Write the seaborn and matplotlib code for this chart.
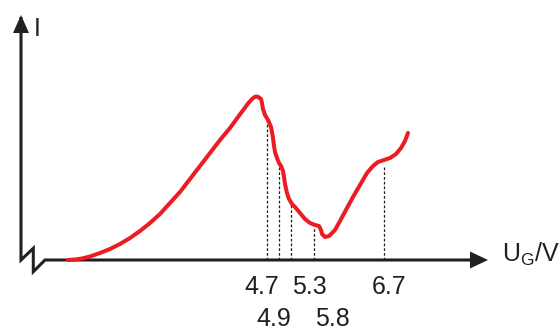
import numpy as np
import pandas as pd
import matplotlib
matplotlib.use("Agg")
import matplotlib.pyplot as plt
import seaborn as sns

# schematic grid voltage position (arbitrary units) and anode current I
ug_pos = [68, 75, 82, 90, 100, 110, 120, 130, 140, 150, 160, 170, 180, 190, 200,
          210, 220, 230, 238, 244, 248, 252, 255, 257,
          259, 261, 262, 263, 265, 268, 271, 272, 273, 274, 275, 277, 279,
          281, 283, 284, 285, 287, 289, 292, 295, 300, 305, 310, 315, 319,
          321, 322, 325, 329, 335, 340, 347, 353, 360, 367, 373, 378, 384,
          390, 396, 401, 405, 408]
current = [0, 0.5, 1.5, 3.5, 7, 11, 16, 22, 29, 37, 46, 57, 68, 81, 94,
           107, 120, 132, 143, 151, 156.5, 161, 163.2, 163.5,
           162.5, 161, 157, 151, 145, 140, 133, 128, 122, 114, 108, 102, 97,
           94, 89, 83, 76, 67, 61, 56, 53, 47, 41, 37, 35, 34,
           30, 26, 23, 24, 30, 39, 52, 63, 75, 87, 94, 98, 100,
           102, 106, 112, 119, 127]

# marked voltages
mark_labels = ["4.7", "4.9", "5.3", "5.8", "6.7"]
mark_pos = [267, 279, 291, 314, 384]
mark_height = [140, 93, 57, 33, 94]
label_pos = [262, 274, 309, 332, 389]
label_row = [0, 1, 0, 1, 0]

sns.set_theme(style="white")
plt.rcParams["font.family"] = ["Liberation Sans", "DejaVu Sans"]
plt.rcParams["mathtext.default"] = "regular"

ink = "#231f20"
red = "#ec1c24"

fig = plt.figure(figsize=(5.6, 3.31), dpi=100)
ax = fig.add_axes([0, 0, 1, 1])

# axes with break symbol
ax.plot([21, 21, 33.3, 33.3, 45, 472], [243, 0, 11.7, -11.7, 0, 0],
        color=ink, lw=2.2, solid_joinstyle="miter", solid_capstyle="butt", zorder=2)
ax.fill([13, 29, 21], [227, 227, 245], color=ink, lw=0, zorder=3)
ax.fill([470, 470, 488], [8.5, -8.5, 0], color=ink, lw=0, zorder=3)

# dashed markers
ax.vlines(mark_pos, 0, mark_height, colors=ink, lw=0.9,
          linestyles=(0, (2.2, 1.6)), zorder=1)

# curve
df = pd.DataFrame({"U": ug_pos, "I": current})
sns.lineplot(data=df, x="U", y="I", sort=False, color=red, lw=2.9,
             ax=ax, zorder=4, legend=False)
ax.lines[-1].set_solid_capstyle("round")
ax.lines[-1].set_solid_joinstyle("round")
ax.set_xlim(0, 560)
ax.set_ylim(-71, 260)
ax.axis("off")

row_y = [-27.5, -59]
for lab, x, r in zip(mark_labels, label_pos, label_row):
    ax.text(x, row_y[r], lab, ha="center", va="center", fontsize=18, color=ink)

ax.text(34, 231.5, "I", ha="left", va="center", fontsize=18, color=ink)
ax.text(502, 6, "U$_G$/V", ha="left", va="center", fontsize=18, color=ink)

fig.savefig("out.png", dpi=100)
